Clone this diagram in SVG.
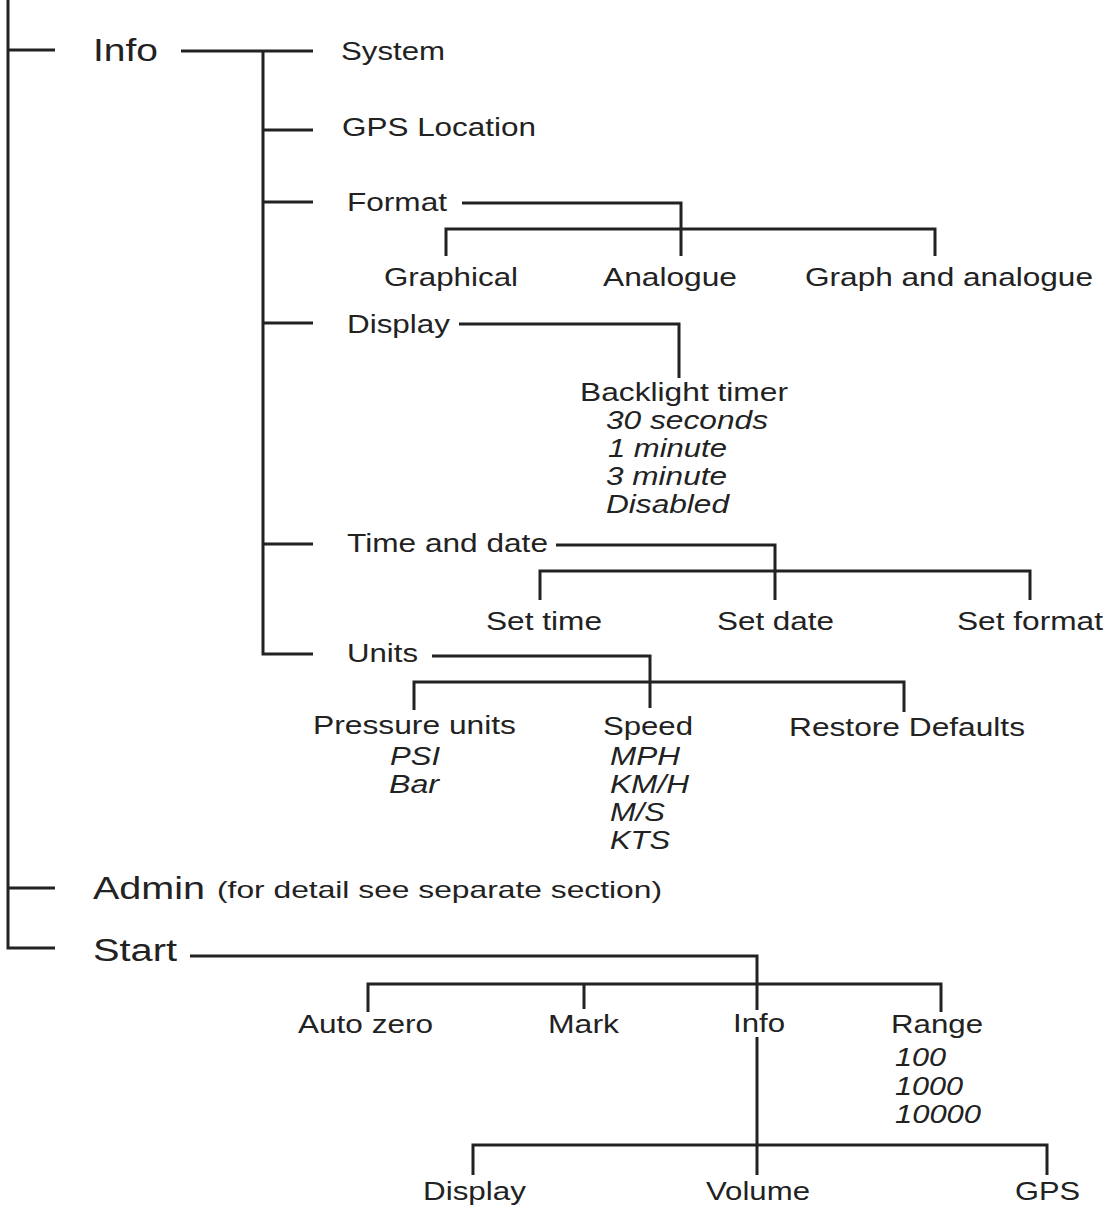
<svg xmlns="http://www.w3.org/2000/svg" width="1107" height="1209" viewBox="0 0 1107 1209">
<style>
text{font-family:"Liberation Sans",Arial,sans-serif;fill:#222;}
.t1{font-size:31px;}
.t2{font-size:25px;}
.t3{font-size:24px;}
.it{font-size:25px;font-style:italic;}
.c{fill:none;stroke:#222;stroke-width:3;}
</style>
<rect width="1107" height="1209" fill="#fff"/>
<g id="connectors">
<path class="c" d="M8 0V948H55M8 50H55M8 888H55"/>
<path class="c" d="M181 51H313M263 51V654H313M263 130H313M263 202H313M263 323H313M263 544H313"/>
<path class="c" d="M462 203H681V256M446 256V229H935V256"/>
<path class="c" d="M459 324H679V378"/>
<path class="c" d="M556 545H775V600M540 600V571H1030V600"/>
<path class="c" d="M432 656H650V708M414 710V682H904V712"/>
<path class="c" d="M190 956H757V1010M368 1012V984H941V1012M584 984V1009"/>
<path class="c" d="M757 1037V1175M473 1175V1145H1047V1175"/>
</g>
<g id="root-info"><text class="t1" x="93" y="61" textLength="65" lengthAdjust="spacingAndGlyphs">Info</text></g>
<g id="system"><text class="t2" x="341" y="60" textLength="104" lengthAdjust="spacingAndGlyphs">System</text></g>
<g id="gps-location"><text class="t2" x="342" y="136" textLength="194" lengthAdjust="spacingAndGlyphs">GPS Location</text></g>
<g id="format"><text class="t2" x="347" y="211" textLength="100" lengthAdjust="spacingAndGlyphs">Format</text></g>
<g id="graphical"><text class="t2" x="384" y="286" textLength="134" lengthAdjust="spacingAndGlyphs">Graphical</text></g>
<g id="analogue"><text class="t2" x="603" y="286" textLength="134" lengthAdjust="spacingAndGlyphs">Analogue</text></g>
<g id="graph-analogue"><text class="t2" x="805" y="286" textLength="288" lengthAdjust="spacingAndGlyphs">Graph and analogue</text></g>
<g id="display"><text class="t2" x="347" y="333" textLength="103" lengthAdjust="spacingAndGlyphs">Display</text></g>
<g id="backlight">
<text class="t2" x="580" y="401" textLength="208" lengthAdjust="spacingAndGlyphs">Backlight timer</text>
<text class="it" x="606" y="429" textLength="162" lengthAdjust="spacingAndGlyphs">30 seconds</text>
<text class="it" x="608" y="457" textLength="119" lengthAdjust="spacingAndGlyphs">1 minute</text>
<text class="it" x="606" y="485" textLength="121" lengthAdjust="spacingAndGlyphs">3 minute</text>
<text class="it" x="606" y="513" textLength="123" lengthAdjust="spacingAndGlyphs">Disabled</text>
</g>
<g id="time-date"><text class="t2" x="347" y="552" textLength="201" lengthAdjust="spacingAndGlyphs">Time and date</text></g>
<g id="set-time"><text class="t2" x="486" y="630" textLength="116" lengthAdjust="spacingAndGlyphs">Set time</text></g>
<g id="set-date"><text class="t2" x="717" y="630" textLength="117" lengthAdjust="spacingAndGlyphs">Set date</text></g>
<g id="set-format"><text class="t2" x="957" y="630" textLength="146" lengthAdjust="spacingAndGlyphs">Set format</text></g>
<g id="units"><text class="t2" x="347" y="662" textLength="71" lengthAdjust="spacingAndGlyphs">Units</text></g>
<g id="pressure">
<text class="t2" x="313" y="734" textLength="203" lengthAdjust="spacingAndGlyphs">Pressure units</text>
<text class="it" x="390" y="765" textLength="50" lengthAdjust="spacingAndGlyphs">PSI</text>
<text class="it" x="389" y="793" textLength="50" lengthAdjust="spacingAndGlyphs">Bar</text>
</g>
<g id="speed">
<text class="t2" x="603" y="735" textLength="90" lengthAdjust="spacingAndGlyphs">Speed</text>
<text class="it" x="610" y="765" textLength="70" lengthAdjust="spacingAndGlyphs">MPH</text>
<text class="it" x="610" y="793" textLength="79" lengthAdjust="spacingAndGlyphs">KM/H</text>
<text class="it" x="610" y="821" textLength="55" lengthAdjust="spacingAndGlyphs">M/S</text>
<text class="it" x="610" y="849" textLength="60" lengthAdjust="spacingAndGlyphs">KTS</text>
</g>
<g id="restore"><text class="t2" x="789" y="736" textLength="236" lengthAdjust="spacingAndGlyphs">Restore Defaults</text></g>
<g id="admin">
<text class="t1" x="93" y="899" textLength="112" lengthAdjust="spacingAndGlyphs">Admin</text>
<text class="t3" x="217" y="898" textLength="445" lengthAdjust="spacingAndGlyphs">(for detail see separate section)</text>
</g>
<g id="start"><text class="t1" x="93" y="961" textLength="84" lengthAdjust="spacingAndGlyphs">Start</text></g>
<g id="auto-zero"><text class="t2" x="298" y="1033" textLength="135" lengthAdjust="spacingAndGlyphs">Auto zero</text></g>
<g id="mark"><text class="t2" x="548" y="1033" textLength="71" lengthAdjust="spacingAndGlyphs">Mark</text></g>
<g id="start-info"><text class="t2" x="733" y="1032" textLength="52" lengthAdjust="spacingAndGlyphs">Info</text></g>
<g id="range">
<text class="t2" x="891" y="1033" textLength="92" lengthAdjust="spacingAndGlyphs">Range</text>
<text class="it" x="895" y="1066" textLength="51" lengthAdjust="spacingAndGlyphs">100</text>
<text class="it" x="895" y="1095" textLength="68" lengthAdjust="spacingAndGlyphs">1000</text>
<text class="it" x="895" y="1123" textLength="86" lengthAdjust="spacingAndGlyphs">10000</text>
</g>
<g id="info-display"><text class="t2" x="423" y="1200" textLength="103" lengthAdjust="spacingAndGlyphs">Display</text></g>
<g id="volume"><text class="t2" x="706" y="1200" textLength="104" lengthAdjust="spacingAndGlyphs">Volume</text></g>
<g id="gps"><text class="t2" x="1015" y="1200" textLength="65" lengthAdjust="spacingAndGlyphs">GPS</text></g>
</svg>
